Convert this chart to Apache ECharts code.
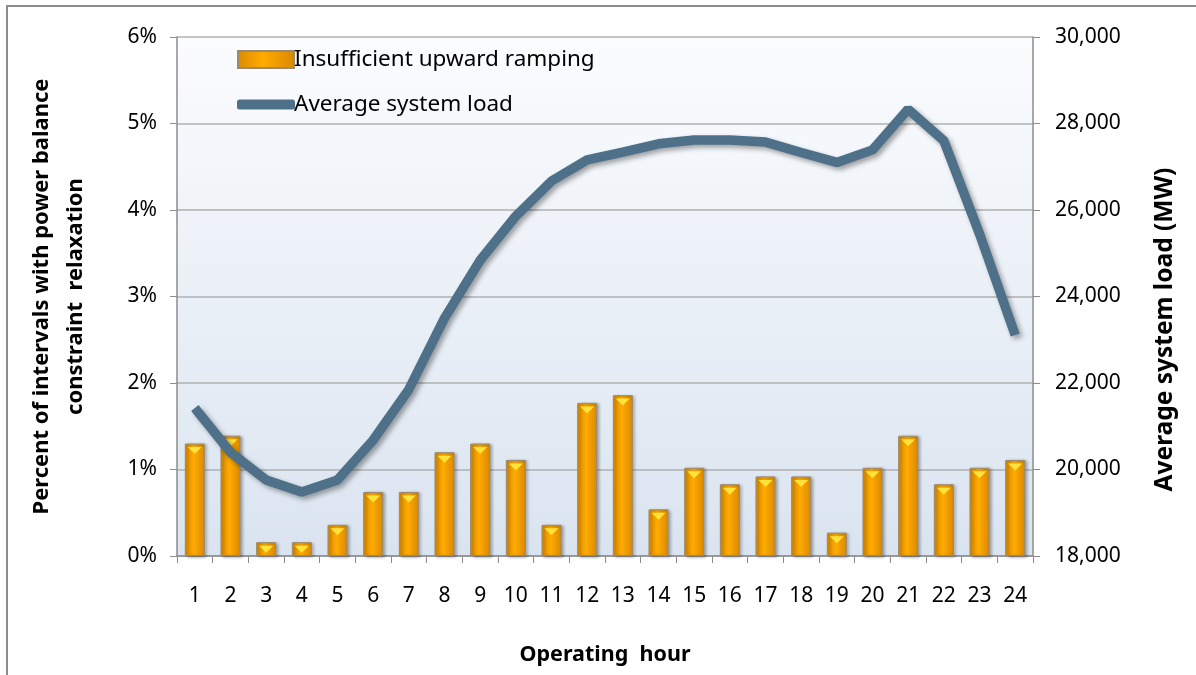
<!DOCTYPE html>
<html><head><meta charset="utf-8">
<script src="https://cdn.jsdelivr.net/npm/echarts@6/dist/echarts.min.js"></script>
<style>html,body{margin:0;padding:0;background:#fff}#c{width:1196px;height:675px}</style>
</head><body><div id="c"></div>
<script>
const hours = ['1','2','3','4','5','6','7','8','9','10','11','12','13','14','15','16','17','18','19','20','21','22','23','24'];
const rampingPct = [1.3,1.39,0.16,0.16,0.36,0.74,0.74,1.2,1.3,1.11,0.36,1.77,1.86,0.54,1.02,0.83,0.92,0.92,0.27,1.02,1.39,0.83,1.02,1.11];
const avgLoad = [21420,20400,19760,19480,19760,20680,21850,23500,24840,25860,26670,27160,27340,27530,27620,27620,27570,27330,27100,27390,28330,27600,25450,23110];
const leftTicks = [0,1,2,3,4,5,6];
const rightTicks = [18000,20000,22000,24000,26000,28000,30000];
const seriesNames = ['Insufficient upward ramping','Average system load'];

const FONT = "'Noto Sans', 'Liberation Sans', sans-serif";
const chart = echarts.init(document.getElementById('c'));
chart.setOption({
  animation:false,
  backgroundColor:'#fff',
  textStyle:{fontFamily:FONT},
  graphic:[{type:'rect',shape:{x:7,y:6,width:1200,height:700},style:{fill:'none',stroke:'#8c8c8c',lineWidth:2},silent:true}],
  grid:{left:177,right:163,top:37,bottom:119,outerBoundsMode:'none',containLabel:false,show:true,borderWidth:0,
    backgroundColor:new echarts.graphic.LinearGradient(0,0,0,1,[{offset:0,color:'#fbfcfe'},{offset:1,color:'#dae4f0'}])},
  legend:[
    {left:232,top:43,itemWidth:56,itemHeight:17,
     textStyle:{fontSize:22.5,color:'#000',fontFamily:FONT,padding:[0,0,0,-5]},
     data:[{name:seriesNames[0],icon:'rect'}]},
    {left:232,top:88,itemWidth:58,itemHeight:10,
     textStyle:{fontSize:22.5,color:'#000',fontFamily:FONT,padding:[0,0,0,-6]},
     data:[{name:seriesNames[1],icon:'roundRect',itemStyle:{color:'#4e7189',borderWidth:0}}]}
  ],
  xAxis:{type:'category',data:hours,
    name:'Operating  hour',nameLocation:'middle',nameGap:88,
    nameTextStyle:{fontSize:21.5,fontWeight:'bold',color:'#000'},
    axisLine:{lineStyle:{color:'#8c8c8c',width:1.5}},
    axisTick:{show:true,length:7,lineStyle:{color:'#8c8c8c'}},
    axisLabel:{fontSize:21,color:'#000',margin:30}},
  yAxis:[{type:'value',min:0,max:6,interval:1,position:'left',
    name:'Percent of intervals with power balance\nconstraint  relaxation',nameLocation:'middle',nameRotate:90,nameGap:84,
    nameTextStyle:{fontSize:22,fontWeight:'bold',color:'#000',lineHeight:34},
    axisLine:{show:true,lineStyle:{color:'#8c8c8c',width:1.5}},
    axisTick:{show:true,length:7,inside:false,lineStyle:{color:'#8c8c8c'}},
    axisLabel:{fontSize:21,color:'#000',margin:20,formatter:v=>leftTicks.includes(v)?v+'%':''},
    splitLine:{lineStyle:{color:'#b0b0b0',width:1.5}}},
   {type:'value',min:18000,max:30000,interval:2000,position:'right',
    name:'Average system load (MW)',nameLocation:'middle',nameRotate:90,nameGap:120,
    nameTextStyle:{fontSize:24.5,fontWeight:'bold',color:'#000',padding:[0,66,0,0]},
    axisLine:{show:true,lineStyle:{color:'#8c8c8c',width:1.5}},
    axisTick:{show:true,length:7,lineStyle:{color:'#8c8c8c'}},
    axisLabel:{fontSize:21,color:'#000',margin:22,formatter:v=>rightTicks.includes(v)?v.toLocaleString('en-US'):''},
    splitLine:{show:false}}],
  series:[
    {name:seriesNames[0],type:'bar',yAxisIndex:0,data:rampingPct,barWidth:20,z:2,
     itemStyle:{color:new echarts.graphic.LinearGradient(0,0,1,0,[{offset:0,color:'#d98a00'},{offset:0.45,color:'#ffab00'},{offset:1,color:'#d98800'}]),
       borderColor:'#9a8a70',borderWidth:1,shadowColor:'rgba(0,0,0,0.3)',shadowBlur:3,shadowOffsetX:2,shadowOffsetY:1}},
    {name:seriesNames[0]+' cap',type:'pictorialBar',yAxisIndex:0,data:rampingPct,symbol:'triangle',symbolRotate:180,
     symbolSize:[14,7],symbolPosition:'end',symbolOffset:[0,'50%'],z:3,silent:true,
     itemStyle:{color:'#ffe23a'}},
    {name:seriesNames[1],type:'line',yAxisIndex:1,data:avgLoad,showSymbol:false,z:4,
     lineStyle:{color:'#4e7189',width:9.5,shadowColor:'rgba(0,0,0,0.35)',shadowBlur:5,shadowOffsetX:3,shadowOffsetY:3},
     itemStyle:{color:'#4e7189'}}
  ]
});
</script></body></html>
